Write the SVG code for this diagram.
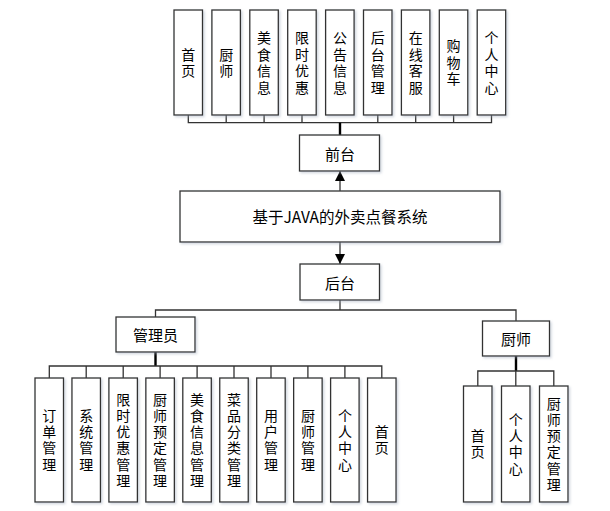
<svg xmlns="http://www.w3.org/2000/svg" width="610" height="511" viewBox="0 0 610 511">
<defs>
<filter id="sh" x="-20%" y="-20%" width="140%" height="140%">
<feDropShadow dx="1.5" dy="1.5" stdDeviation="0.8" flood-color="#9aa6b8" flood-opacity="0.45"/>
</filter>
<marker id="arr" viewBox="0 0 10 10" refX="10" refY="5" markerWidth="10" markerHeight="10" markerUnits="userSpaceOnUse" orient="auto">
<path d="M0,0 L10,5 L0,10 z" fill="#000"/>
</marker>
</defs>
<style>
.b{fill:#fff;stroke:#333;stroke-width:1.3;filter:url(#sh)}
.t{font-family:"Noto Sans CJK SC","Noto Sans CJK JP",sans-serif;font-size:14px;fill:#000;text-anchor:middle;dominant-baseline:central}
.h{font-size:15px}
.v{font-family:"Noto Sans CJK SC","Noto Sans CJK JP",sans-serif;font-size:14px;fill:#000;text-anchor:middle;writing-mode:vertical-rl;letter-spacing:2.5px}
.w{letter-spacing:2.2px}
.l{fill:none;stroke:#333;stroke-width:1.3}
.k{fill:none;stroke:#000;stroke-width:2.4}
</style>
<rect width="610" height="511" fill="#fff"/>
<g id="connectors">
<path class="l" d="M188.3,115V122.7H491.5V115M226.2,115V122.7M264.1,115V122.7M302,115V122.7M377.8,115V122.7M415.7,115V122.7M453.6,115V122.7"/>
<path class="k" d="M340,122.7V135"/>
<path class="l" d="M340,191V171" marker-end="url(#arr)"/>
<path class="l" d="M340,242V264" marker-end="url(#arr)"/>
<path class="l" d="M340,300V310M155.5,317V310H516V321"/>
<path class="k" d="M155.5,352V366"/>
<path class="l" d="M49.3,378V366H381.8V378M86.2,366V378M123.2,366V378M160.1,366V378M197.1,366V378M234,366V378M271,366V378M307.9,366V378M344.9,366V378"/>
<path class="k" d="M516,356V371"/>
<path class="l" d="M477.8,386V371H553.8V386M515.8,371V386"/>
</g>
<g id="top-nodes">
<g id="n-shouye"><rect class="b" x="174" y="10" width="28.5" height="105"/><text class="v" x="188.3" y="63.7">首页</text></g>
<g id="n-chushi"><rect class="b" x="211.9" y="10" width="28.5" height="105"/><text class="v" x="226.2" y="63.7">厨师</text></g>
<g id="n-meishi"><rect class="b" x="249.8" y="10" width="28.5" height="105"/><text class="v" x="264.1" y="63.7">美食信息</text></g>
<g id="n-xianshi"><rect class="b" x="287.7" y="10" width="28.5" height="105"/><text class="v" x="302" y="63.7">限时优惠</text></g>
<g id="n-gonggao"><rect class="b" x="325.6" y="10" width="28.5" height="105"/><text class="v" x="339.9" y="63.7">公告信息</text></g>
<g id="n-houtaiguanli"><rect class="b" x="363.5" y="10" width="28.5" height="105"/><text class="v" x="377.8" y="63.7">后台管理</text></g>
<g id="n-kefu"><rect class="b" x="401.4" y="10" width="28.5" height="105"/><text class="v" x="415.7" y="63.7">在线客服</text></g>
<g id="n-gouwuche"><rect class="b" x="439.3" y="10" width="28.5" height="105"/><text class="v" x="453.6" y="63.7">购物车</text></g>
<g id="n-geren"><rect class="b" x="477.2" y="10" width="28.5" height="105"/><text class="v" x="491.5" y="63.7">个人中心</text></g>
</g>
<g id="qiantai"><rect class="b" x="299.5" y="135" width="80" height="36"/><text class="t h" x="340" y="153">前台</text></g>
<g id="root"><rect class="b" x="180" y="191" width="320" height="51"/><text class="t" style="font-size:15.5px" x="340" y="215.5">基于JAVA的外卖点餐系统</text></g>
<g id="houtai"><rect class="b" x="300" y="264" width="79.5" height="36"/><text class="t h" x="340" y="282">后台</text></g>
<g id="guanliyuan"><rect class="b" x="116" y="317" width="79" height="35"/><text class="t h" x="155.5" y="334.5">管理员</text></g>
<g id="chushi-role"><rect class="b" x="482.5" y="321" width="67" height="35"/><text class="t h" x="516" y="338.5">厨师</text></g>
<g id="admin-nodes">
<g id="a1"><rect class="b" x="35" y="378" width="28.5" height="124"/><text class="v w" x="49.3" y="441.1">订单管理</text></g>
<g id="a2"><rect class="b" x="71.95" y="378" width="28.5" height="124"/><text class="v w" x="86.2" y="441.1">系统管理</text></g>
<g id="a3"><rect class="b" x="108.9" y="378" width="28.5" height="124"/><text class="v w" x="123.2" y="441.1">限时优惠管理</text></g>
<g id="a4"><rect class="b" x="145.85" y="378" width="28.5" height="124"/><text class="v w" x="160.1" y="441.1">厨师预定管理</text></g>
<g id="a5"><rect class="b" x="182.8" y="378" width="28.5" height="124"/><text class="v w" x="197.1" y="441.1">美食信息管理</text></g>
<g id="a6"><rect class="b" x="219.75" y="378" width="28.5" height="124"/><text class="v w" x="234" y="441.1">菜品分类管理</text></g>
<g id="a7"><rect class="b" x="256.7" y="378" width="28.5" height="124"/><text class="v w" x="271" y="441.1">用户管理</text></g>
<g id="a8"><rect class="b" x="293.65" y="378" width="28.5" height="124"/><text class="v w" x="307.9" y="441.1">厨师管理</text></g>
<g id="a9"><rect class="b" x="330.6" y="378" width="28.5" height="124"/><text class="v w" x="344.9" y="441.1">个人中心</text></g>
<g id="a10"><rect class="b" x="367.55" y="378" width="28.5" height="124"/><text class="v w" x="381.8" y="441.1">首页</text></g>
</g>
<g id="chef-nodes">
<g id="c1"><rect class="b" x="463.5" y="386" width="28.5" height="116"/><text class="v w" x="477.8" y="445.1">首页</text></g>
<g id="c2"><rect class="b" x="501.5" y="386" width="28.5" height="116"/><text class="v w" x="515.8" y="445.1">个人中心</text></g>
<g id="c3"><rect class="b" x="539.5" y="386" width="28.5" height="116"/><text class="v w" x="553.8" y="445.1">厨师预定管理</text></g>
</g>
</svg>
